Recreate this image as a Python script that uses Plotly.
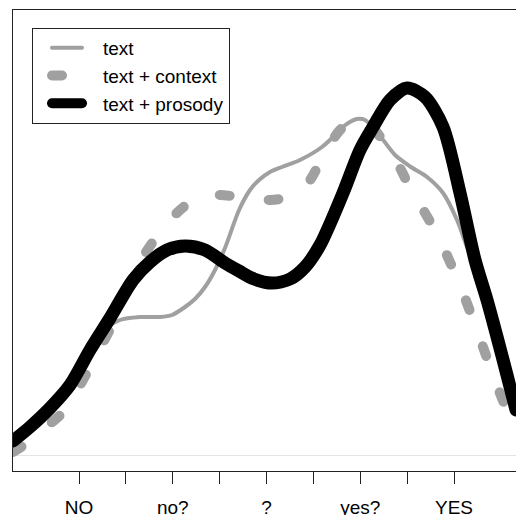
import plotly.graph_objects as go

# Category scale: 1=NO, 2=no?, 3=?, 4=yes?, 5=YES
tick_vals = [1, 1.5, 2, 2.5, 3, 3.5, 4, 4.5, 5]
tick_text = ["NO", "", "no?", "", "?", "", "yes?", "", "YES"]

# text (gray solid)
text_x = [0.296, 0.477, 0.691, 0.904, 1.117, 1.277, 1.437, 1.651, 1.864, 1.992, 2.131, 2.237,
          2.344, 2.451, 2.557, 2.707, 2.824, 2.920, 3.037, 3.165, 3.357, 3.592, 3.709, 3.827,
          3.965, 4.051, 4.211, 4.371, 4.541, 4.712, 4.883, 5.032, 5.139, 5.224, 5.352, 5.459,
          5.565, 5.661]
text_y = [0.013, 0.027, 0.046, 0.069, 0.101, 0.125, 0.135, 0.138, 0.138, 0.140, 0.148, 0.156,
          0.168, 0.185, 0.207, 0.245, 0.265, 0.275, 0.283, 0.288, 0.295, 0.308, 0.318, 0.329,
          0.336, 0.335, 0.319, 0.300, 0.288, 0.278, 0.262, 0.235, 0.208, 0.190, 0.153, 0.116,
          0.078, 0.043]

# text + context (gray dashed)
context_x = [0.296, 0.445, 0.637, 0.851, 1.117, 1.363, 1.619, 1.864, 2.077, 2.259, 2.504,
             2.771, 3.037, 3.272, 3.464, 3.592, 3.784, 3.933, 4.051, 4.157, 4.285, 4.424,
             4.552, 4.691, 4.829, 5.053, 5.245, 5.427, 5.619, 5.661]
context_y = [0.003, 0.012, 0.027, 0.045, 0.088, 0.132, 0.188, 0.223, 0.245, 0.257, 0.260,
             0.257, 0.255, 0.259, 0.275, 0.297, 0.325, 0.335, 0.335, 0.325, 0.308, 0.287,
             0.263, 0.242, 0.219, 0.172, 0.125, 0.077, 0.032, 0.023]

# text + prosody (black)
prosody_x = [0.296, 0.477, 0.691, 0.904, 1.117, 1.331, 1.576, 1.757, 1.939, 2.131, 2.344,
             2.557, 2.707, 2.867, 3.059, 3.251, 3.411, 3.571, 3.816, 3.997, 4.136, 4.317,
             4.499, 4.691, 4.883, 5.064, 5.224, 5.352, 5.459, 5.565, 5.661]
prosody_y = [0.014, 0.028, 0.047, 0.070, 0.105, 0.137, 0.175, 0.193, 0.205, 0.209, 0.205,
             0.192, 0.184, 0.176, 0.172, 0.176, 0.188, 0.210, 0.262, 0.305, 0.328, 0.355,
             0.367, 0.358, 0.328, 0.262, 0.195, 0.155, 0.118, 0.080, 0.045]

GRAY = "#A0A0A0"

fig = go.Figure()
fig.add_trace(go.Scatter(x=text_x, y=text_y, mode="lines", name="text",
                         line=dict(color=GRAY, width=4, shape="spline", smoothing=0.8)))
fig.add_trace(go.Scatter(x=context_x, y=context_y, mode="lines", name="text + context",
                         line=dict(color=GRAY, width=10, dash="10px,39px", shape="spline", smoothing=0.8)))
fig.add_trace(go.Scatter(x=prosody_x, y=prosody_y, mode="lines", name="text + prosody",
                         line=dict(color="black", width=13, shape="spline", smoothing=0.8)))

fig.update_layout(
    width=516, height=515,
    margin=dict(l=13, r=0, t=10, b=44, autoexpand=False),
    paper_bgcolor="white", plot_bgcolor="white",
    font=dict(family="Liberation Sans, Arial, sans-serif", size=19, color="black"),
    showlegend=True,
    legend=dict(x=0.0378, y=0.961, xanchor="left", yanchor="top",
                bgcolor="white", bordercolor="#222", borderwidth=1,
                font=dict(size=19), itemwidth=60, tracegroupgap=0),
    xaxis=dict(range=[0.296, 5.661], tickmode="array", tickvals=tick_vals, ticktext=tick_text,
               ticks="outside", ticklen=12, tickwidth=1.3, tickcolor="#222", automargin=False,
               showgrid=False, zeroline=False, showline=True, linecolor="#222", linewidth=1.2,
               mirror=True, tickfont=dict(size=19), ticklabelstandoff=7),
    yaxis=dict(range=[-0.016, 0.445], showticklabels=False, ticks="", showgrid=False,
               automargin=False,
               zeroline=True, zerolinecolor="#E4E4E4", zerolinewidth=1,
               showline=True, linecolor="#222", linewidth=1.2),
)

post = ("document.body.style.margin='0';"
        "document.querySelectorAll('path.js-line').forEach(function(p){"
        "p.style.strokeLinecap='round'; p.style.strokeLinejoin='round';});"
        "document.querySelectorAll('.legendlines path').forEach(function(p){"
        "p.setAttribute('d','M19,0h30');});")
fig.write_html("out.html", post_script=post, config={"displayModeBar": False})
